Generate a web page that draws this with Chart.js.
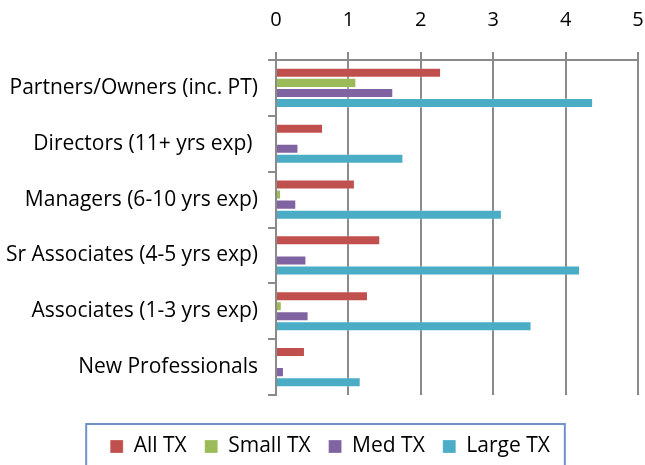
<!DOCTYPE html>
<html>
<head>
<meta charset="utf-8">
<script src="https://cdn.jsdelivr.net/npm/chart.js@4/dist/chart.umd.min.js"></script>
<style>
  html, body { margin: 0; padding: 0; background: #fff; }
  #wrap { width: 645px; height: 465px; }
</style>
</head>
<body>
<div id="wrap"><canvas id="chart" width="645" height="465"></canvas></div>
<script>
// categories, top to bottom
var categories = ['Partners/Owners (inc. PT)', 'Directors (11+ yrs exp) ', 'Managers (6-10 yrs exp)',
    'Sr Associates (4-5 yrs exp)', 'Associates (1-3 yrs exp)', 'New Professionals'];

var allTX   = [2.28, 0.65, 1.09, 1.44, 1.27, 0.40];
var smallTX = [1.11, 0.02, 0.07, 0.01, 0.08, 0.01];
var medTX   = [1.62, 0.31, 0.28, 0.42, 0.45, 0.11];
var largeTX = [4.38, 1.76, 3.12, 4.20, 3.53, 1.17];

var seriesNames = ['All TX', 'Small TX', 'Med TX', 'Large TX'];
var xTicks = [0, 1, 2, 3, 4, 5];

var gridGray = '#8a8a8a';
var font = "'Open Sans', sans-serif";

// box round the legend, like the excel one
var legendBox = {
    id: 'legendBox',
    afterLayout: function (chart) {
        // legend sits a bit right of centre in the original
        chart.legend.left += 11;
        chart.legend.right += 11;
    },
    afterDraw: function (chart) {
        var boxes = chart.legend.legendHitBoxes;
        if (!boxes || !boxes.length) return;
        var left = boxes[0].left - 24;
        var last = boxes[boxes.length - 1];
        var right = last.left + last.width + 15;
        var top = boxes[0].top - 12;
        var ctx = chart.ctx;
        ctx.save();
        ctx.strokeStyle = '#6d93c8';
        ctx.lineWidth = 2;
        ctx.strokeRect(left, top, right - left, chart.height - top + 10);
        ctx.restore();
    }
};

var ctx = document.getElementById('chart').getContext('2d');
var chart = new Chart(ctx, {
    type: 'bar',
    data: {
        labels: categories,
        datasets: [
            { label: seriesNames[0], data: allTX,   backgroundColor: '#c0504d' },
            { label: seriesNames[1], data: smallTX, backgroundColor: '#9bbb59' },
            { label: seriesNames[2], data: medTX,   backgroundColor: '#8064a2' },
            { label: seriesNames[3], data: largeTX, backgroundColor: '#4bacc6' }
        ]
    },
    options: {
        indexAxis: 'y',
        responsive: false,
        animation: false,
        layout: { padding: { left: 0, right: 7, top: 0, bottom: -2 } },
        datasets: {
            bar: {
                categoryPercentage: 0.72,
                barPercentage: 1,
                borderWidth: 1,
                borderColor: 'rgba(255,255,255,0.25)'
            }
        },
        scales: {
            x: {
                position: 'top',
                min: 0,
                max: 5,
                afterBuildTicks: function (scale) {
                    scale.ticks = xTicks.map(function (v) { return { value: v }; });
                },
                afterFit: function (scale) {
                    scale.height = 60;
                    scale.paddingLeft = 0;
                    scale.paddingRight = 0;
                },
                grid: { color: gridGray, lineWidth: 2, tickLength: 8 },
                border: { color: gridGray, width: 2 },
                ticks: { color: '#000', padding: 20, maxRotation: 0, font: { family: font, size: 20 } }
            },
            y: {
                afterFit: function (scale) {
                    scale.width = 276;
                    scale.paddingTop = 0;
                    scale.paddingBottom = 0;
                },
                grid: { drawOnChartArea: false, color: gridGray, lineWidth: 2, tickLength: 8 },
                border: { color: gridGray, width: 2 },
                ticks: { color: '#000', padding: 10, font: { family: font, size: 21 } }
            }
        },
        plugins: {
            tooltip: { enabled: false },
            legend: {
                position: 'bottom',
                title: { display: true, text: '', font: { size: 1, lineHeight: 1 }, padding: { top: 22, bottom: 0 } },
                labels: {
                    color: '#000',
                    boxWidth: 13,
                    boxHeight: 13,
                    padding: 18,
                    font: { family: font, size: 21 }
                }
            }
        }
    },
    plugins: [legendBox]
});
</script>
</body>
</html>
